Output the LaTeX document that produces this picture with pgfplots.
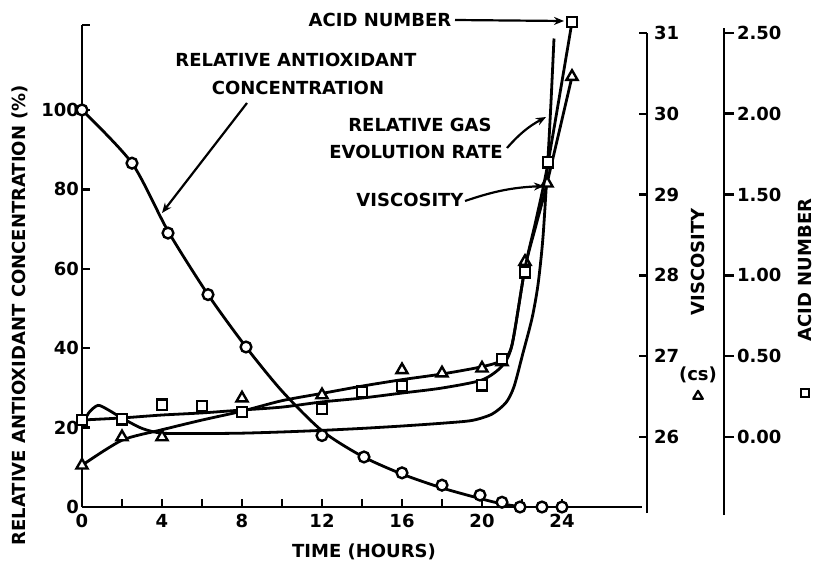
\documentclass[border=0pt]{standalone}
\usepackage{fontspec}
\setmainfont{DejaVu Sans}
\usepackage{pgfplots}
\pgfplotsset{compat=1.18}
\usetikzlibrary{arrows.meta}
\newcommand\lbl{\bfseries\fontsize{9}{10}\selectfont}
\pgfplotsset{
  every axis/.append style={
    /pgf/number format/assume math mode=true,
    tick label style={font=\lbl},
    label style={font=\lbl},
    every tick/.style={line width=1.2pt,black},
  },
  noarrow/.style={axis line style={line width=1.4pt,-},
    x axis line style={-}, y axis line style={-}},
  base/.style={
    at={(41pt,28.5pt)}, anchor=south west, scale only axis,
    width=280pt, height=241pt, xmin=0, xmax=28, clip=false,
  },
  curve/.style={line width=1.4pt, black, smooth, tension=0.45},
  pts/.style={only marks, black, mark options={fill=white, draw=black, line width=1.2pt}},
}
\begin{document}
\begin{tikzpicture}
% ---------------- main axis: relative antioxidant / gas evolution
\begin{axis}[base, ymin=0, ymax=121.4,
  axis x line=bottom, axis y line=left, noarrow,
  xtick={0,2,...,24}, xticklabels={0,,4,,8,,12,,16,,20,,24},
  ytick={0,20,40,60,80,100,121.4}, yticklabels={0,20,40,60,80,100,},
  tick align=inside, major tick length=4pt,
  yticklabel style={xshift=2pt},
  xlabel={TIME (HOURS)},
  ylabel={RELATIVE ANTIOXIDANT CONCENTRATION (\%)},
  xlabel style={at={(axis description cs:0.5036,-0.0934)}, anchor=center},
  ylabel style={at={(axis description cs:-0.1107,0.398)}, anchor=center},
]
% relative gas evolution rate (no markers)
\addplot[curve] coordinates {
 (0,20.5) (0.35,23.8) (0.8,25.6) (1.3,24.5) (2,22.4) (3,19.8) (4,18.6) (6,18.5)
 (8,18.6) (10,18.9) (12,19.3) (14,19.8) (16,20.4) (18,21.1) (19.5,21.8)
 (20.5,23.4) (21.2,26.3) (21.6,30.3) (22.05,38.8) (22.5,47.5) (22.8,56)
 (23.05,68) (23.3,88) (23.45,102) (23.6,118)};
% relative antioxidant concentration
\addplot[curve] coordinates {
 (0,100) (2.5,86.6) (4.3,69.5) (6.3,53.5) (8.2,40.3) (10,29.2) (12,19.2)
 (14,12.8) (16,8.3) (18,4.8) (20,2.0) (21,0.8) (22,0)};
\addplot[pts, mark=*, mark size=2.7pt] coordinates {
 (0,100) (2.5,86.6) (4.3,69) (6.3,53.5) (8.2,40.3) (12,18) (14.1,12.6)
 (16,8.6) (18,5.5) (19.9,3.0) (21,1.2) (21.9,0) (23,0) (24,0)};
\end{axis}
% ---------------- viscosity data
\begin{axis}[base, hide axis, ymin=25.134, ymax=31.099]
\addplot[curve] coordinates {
 (0,25.65) (2,25.96) (4,26.09) (6,26.21) (8,26.32) (10,26.45) (12,26.54)
 (14,26.63) (16,26.71) (18,26.78) (20,26.87) (21,26.95) (21.5,27.14)
 (22.15,28.09) (22.7,28.62) (23.25,29.14) (24.5,30.46)};
\addplot[pts, mark=triangle*, mark size=3.2pt] coordinates {
 (0,25.65) (2,26.0) (4,26.0) (8,26.48) (12,26.52) (16,26.83) (18,26.79)
 (20,26.85) (21,26.93) (22.15,28.17) (23.25,29.14) (24.5,30.46)};
\end{axis}
% ---------------- acid number data
\begin{axis}[base, hide axis, ymin=-0.4332, ymax=2.5495]
\addplot[curve] coordinates {
 (0,0.105) (2,0.118) (4,0.136) (6,0.149) (8,0.167) (10,0.185) (12,0.217)
 (14,0.241) (16,0.272) (18,0.303) (20,0.353) (21,0.439) (21.5,0.57)
 (22.15,1.046) (22.7,1.343) (23.3,1.696) (24.5,2.568)};
\addplot[pts, mark=square*, mark size=2.6pt] coordinates {
 (0,0.105) (2,0.11) (4,0.20) (6,0.19) (8,0.155) (12,0.173) (14,0.28)
 (16,0.315) (20,0.32) (21,0.48) (22.15,1.02) (23.3,1.70) (24.5,2.568)};
\end{axis}
% ---------------- viscosity scale
\begin{axis}[at={(323.5pt,25.5pt)}, anchor=south east, scale only axis,
  width=4pt, height=240pt, xmin=0, xmax=1, ymin=25.06, ymax=31.0,
  axis y line=right, hide x axis, noarrow, ytick={26,27,28,29,30,31},
  tick align=inside, major tick length=4pt]
\end{axis}
% ---------------- acid number scale
\begin{axis}[at={(362pt,24.5pt)}, anchor=south east, scale only axis,
  width=4pt, height=243.5pt, xmin=0, xmax=1, ymin=-0.483, ymax=2.53,
  axis y line=right, hide x axis, noarrow, ytick={0,0.5,1,1.5,2,2.5},
  yticklabels={0.00,0.50,1.00,1.50,2.00,2.50},
  tick align=outside, major tick length=5pt,
  yticklabel style={xshift=-2pt}]
\end{axis}
% ---------------- annotations
\node[font=\lbl] at (190pt,272pt) {ACID NUMBER};
\draw[line width=1.1pt,-{Stealth[length=5pt,width=4pt]}] (227.5pt,272pt) -- (282pt,271.5pt);
\node[font=\lbl] at (148pt,252pt) {RELATIVE ANTIOXIDANT};
\node[font=\lbl] at (149pt,238pt) {CONCENTRATION};
\draw[line width=1.1pt,-{Stealth[length=5pt,width=4pt]}] (123.5pt,230.5pt) -- (81pt,175.5pt);
\node[font=\lbl] at (210pt,219.5pt) {RELATIVE GAS};
\node[font=\lbl] at (208pt,206pt) {EVOLUTION RATE};
\draw[line width=1.1pt,-{Stealth[length=5pt,width=4pt]}] (253.5pt,208pt) to[bend left=10] (273pt,223.5pt);
\node[font=\lbl] at (205pt,182pt) {VISCOSITY};
\draw[line width=1.1pt,-{Stealth[length=5pt,width=4pt]}] (232.5pt,181.5pt) to[bend left=8] (272pt,189pt);
\node[font=\lbl, rotate=90] at (349pt,151pt) {VISCOSITY};
\node[font=\lbl] at (349pt,94.5pt) {(cs)};
\draw[line width=1.1pt, line join=round] (346.6pt,82.6pt) -- (351.4pt,82.6pt) -- (349pt,86.6pt) -- cycle;
\node[font=\lbl, rotate=90] at (402.5pt,147pt) {ACID NUMBER};
\draw[line width=1.1pt] (400.5pt,83.5pt) rectangle (404.5pt,87.5pt);
\pgfresetboundingbox
\path[use as bounding box] (0,0) rectangle (410pt,282pt);
\end{tikzpicture}
\end{document}
